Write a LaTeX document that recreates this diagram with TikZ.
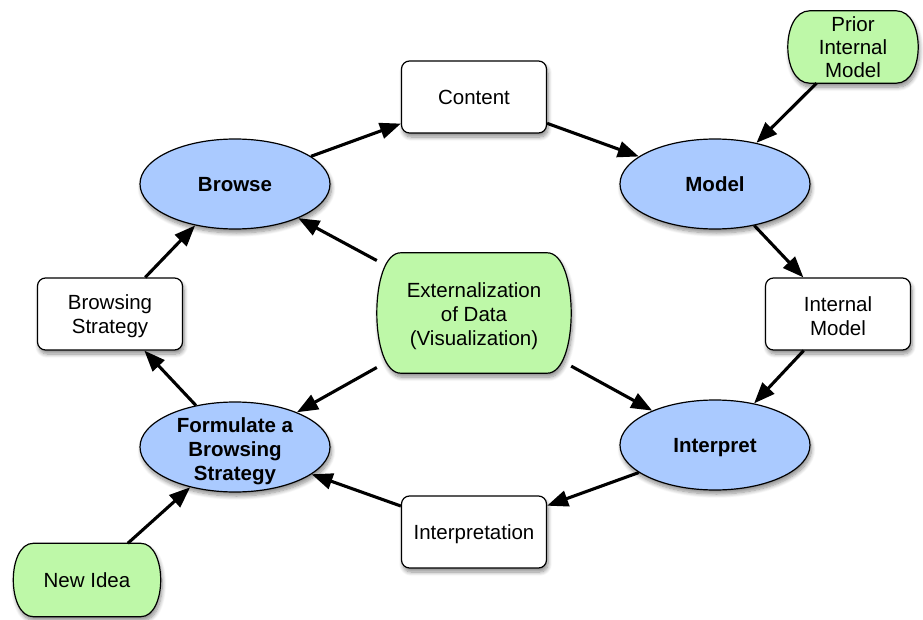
\documentclass[tikz,border=0pt]{standalone}
\usepackage{fontspec}
\setmainfont{Liberation Sans}
\usetikzlibrary{shapes.geometric,arrows.meta,shadows.blur,backgrounds,calc}
\definecolor{stageblue}{RGB}{170,202,255}
\definecolor{sourcegreen}{RGB}{190,248,168}
\begin{document}
\begin{tikzpicture}[x=1pt,y=-1pt,
  every node/.style={font=\fontsize{20.5}{24}\selectfont, align=center, inner sep=0pt},
  softshadow/.style={blur shadow={shadow xshift=1.5pt, shadow yshift=-4pt, shadow blur steps=8, shadow opacity=45, shadow blur radius=4pt}},
  stage/.style={ellipse, draw=black, line width=1.2pt, fill=stageblue,
    minimum width=190pt, minimum height=90pt, softshadow},
  stagetext/.style={font=\fontsize{20.5}{24}\selectfont\bfseries},
  item/.style={rectangle, rounded corners=8pt, draw=black, line width=1.2pt, fill=white,
    minimum width=145pt, minimum height=72pt, softshadow},
  source/.style={rectangle, draw=none, fill=none},
  sourceshape/.style={draw=black, line width=1.2pt, fill=sourcegreen, softshadow},
  link/.style={line width=3.1pt, -{Triangle[length=21pt,width=16pt]}}
]
\useasboundingbox (0,0) rectangle (923,620);

% stages of the loop (shape, then its caption)
\node[stage] (browse)    at (235,184) {};
\node[stage] (model)     at (715,184) {};
\node[stage] (formulate) at (235,447) {};
\node[stage] (interpret) at (715,445) {};
\node[stagetext] (browse text)    at ($(browse)+(0,1)$)    {Browse};
\node[stagetext] (model text)     at ($(model)+(0,0)$)     {Model};
\node[stagetext] (formulate text) at ($(formulate)+(0,4)$) {Formulate a\\Browsing\\Strategy};
\node[stagetext] (interpret text) at ($(interpret)+(0,3)$) {Interpret};

% intermediate products
\node[item] (content)  at (474,97)  {};
\node[item] (strategy) at (110,314) {};
\node[item] (internal) at (838,314) {};
\node[item] (interp)   at (474,532) {};
\node (content text)  at ($(content)+(0,0)$)    {Content};
\node (strategy text) at ($(strategy)+(0,2.5)$) {Browsing\\Strategy};
\node (internal text) at ($(internal)+(0,2.5)$) {Internal\\Model};
\node (interp text)   at ($(interp)+(0,2)$)     {Interpretation};

% external inputs
\node[source, minimum width=194pt, minimum height=120pt] (ext) at (474,313) {};
\node[source, minimum width=130pt, minimum height=72pt] (prior) at (853,47) {};
\node[source, minimum width=147pt, minimum height=73pt] (idea) at (87,580) {};
\node (ext text)   at ($(ext)+(0,3)$)   {Externalization\\of Data\\(Visualization)};
\node[font=\fontsize{20.5}{23}\selectfont] (prior text) at ($(prior)+(0,0)$) {Prior\\Internal\\Model};
\node (idea text)  at ($(idea)+(0,0)$)  {New Idea};

\begin{scope}[on background layer]
  \foreach \n/\rr in {ext/24, prior/22, idea/20} {
    \path[sourceshape]
      ($(\n.north west)+(\rr,0)$) -- ($(\n.north east)+(-\rr,0)$)
      .. controls ($(\n.north east)+(\rr/3,0)$) and ($(\n.south east)+(\rr/3,0)$)
      .. ($(\n.south east)+(-\rr,0)$) -- ($(\n.south west)+(\rr,0)$)
      .. controls ($(\n.south west)+(-\rr/3,0)$) and ($(\n.north west)+(-\rr/3,0)$)
      .. cycle;
  }
\end{scope}

% connectors
\draw[link] (browse) -- (content);
\draw[link] (content) -- (model);
\draw[link] (prior) -- (model);
\draw[link] (model) -- (internal);
\draw[link] (internal) -- (interpret);
\draw[link] (interpret) -- (interp);
\draw[link] (interp) -- (formulate);
\draw[link] (formulate) -- (strategy);
\draw[link] (strategy) -- (browse);
\draw[link] (idea) -- (formulate);
\draw[link] (ext) -- (browse);
\draw[link] (ext) -- (formulate);
\draw[link] (ext) -- (interpret);
\end{tikzpicture}
\end{document}
